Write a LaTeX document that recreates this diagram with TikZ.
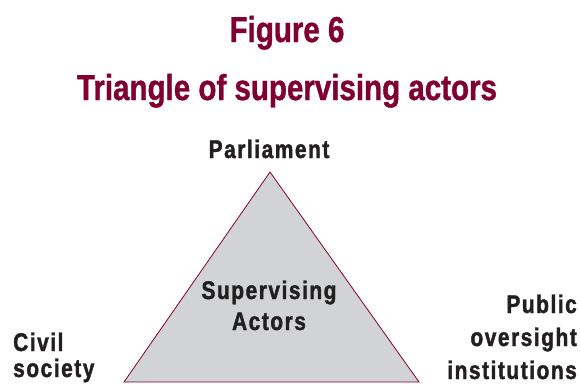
\documentclass[tikz,border=0pt]{standalone}
\usepackage{fontspec}
\usepackage{xcolor}
\usepackage{tikz}
\usetikzlibrary{positioning}
\setmainfont{Liberation Sans}[FakeStretch=0.82]
\definecolor{figmaroon}{RGB}{128,0,51}
\definecolor{trigrey}{RGB}{209,211,212}
\definecolor{inkdark}{RGB}{35,31,32}

\begin{document}
\begin{tikzpicture}[
    x=1pt, y=-1pt,
    nosep/.style={inner sep=0},
    heading/.style={nosep, anchor=base, text=figmaroon, font=\fontsize{36}{40}\selectfont\bfseries\addfontfeatures{FakeBold=1}},
    actor/.style={nosep, text=inkdark, font=\fontsize{25.5}{30}\selectfont\bfseries\addfontfeatures{LetterSpace=6,FakeBold=1.5}},
    tri/.style={draw=figmaroon, fill=trigrey, line width=0.8pt, line join=miter}]
\useasboundingbox (0,0) rectangle (580,383);

\node[heading] (fignum) at (287,42) {Figure 6};
\node[heading] (figtitle) at (287,100) {Triangle of supervising actors};

\coordinate (apex) at (270,172);
\coordinate (baseleft) at (124,382);
\coordinate (baseright) at (419,382);
\draw[tri] (apex) -- (baseleft) -- (baseright) -- cycle;

% last line of each label sits on the given point
\node[actor, anchor=base] (parl) at (269,158) {Parliament};
\node[actor, anchor=base, align=center] (core) at (269,330) {Supervising\\[1pt]Actors};
\node[actor, anchor=base west, align=left] (civil) at (13,377) {Civil\\[-4pt]society};
\node[actor, anchor=base east, align=right] (public) at (577,379) {Public\\[3pt]oversight\\[3pt]institutions};

\end{tikzpicture}
\end{document}
